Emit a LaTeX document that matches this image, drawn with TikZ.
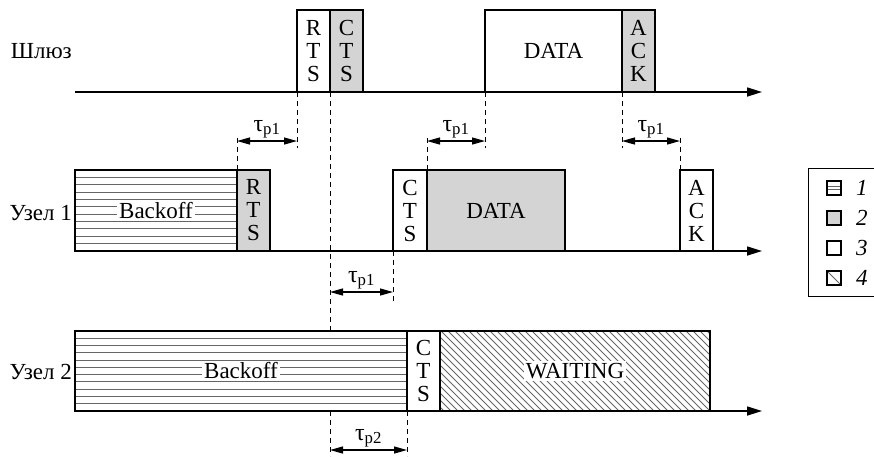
\documentclass[tikz,border=0pt]{standalone}
\usepackage{fontspec}
\setmainfont{Liberation Serif}
\usepackage{tikz}
\usetikzlibrary{arrows.meta, positioning, calc}
\definecolor{boxgray}{gray}{0.83}
\definecolor{hatchgray}{gray}{0.4}
\tikzstyle{slot}    = [draw, fill=white, line width=1.8pt, inner sep=0pt, outer sep=0pt,
                       anchor=north west, align=center, font=\fontsize{23}{23}\selectfont]
\tikzstyle{backoff} = [slot, path picture={\foreach \k in {1,...,10}
                         \draw[hatchgray, line width=0.9pt]
                         ($(path picture bounding box.north west)!\k/11!(path picture bounding box.south west)$) -- ++(400,0);}]
\tikzstyle{waiting} = [slot, path picture={\foreach \k in {0,...,52}
                         \draw[hatchgray, line width=0.8pt]
                         ($(path picture bounding box.north west)+(\k*7-90,0)$) -- ++(90,90);}]
\tikzstyle{tag}     = [fill=white, inner sep=2pt, font=\fontsize{23}{23}\selectfont]
\tikzstyle{rowname} = [inner sep=0pt, anchor=base east, font=\fontsize{23}{23}\selectfont]
\tikzstyle{axis}    = [line width=1.6pt, -{Triangle[length=15pt, width=9pt]}]
\tikzstyle{guide}   = [dash pattern=on 5pt off 4pt, line width=0.8pt]
\tikzstyle{span}    = [line width=1.2pt, {Triangle[length=13pt, width=7pt]}-{Triangle[length=13pt, width=7pt]}]
\tikzstyle{spanlbl} = [inner sep=1pt, above=1pt, font=\fontsize{24}{24}\selectfont]
\tikzstyle{key}     = [draw, fill=white, line width=1.6pt, minimum size=14pt, inner sep=0pt]
\tikzstyle{keynum}  = [inner sep=0pt, font=\fontsize{23}{23}\selectfont\itshape]

\begin{document}
\begin{tikzpicture}[x=1pt, y=-1pt]
  \useasboundingbox (0,0) rectangle (874,456);

  % Row names
  \node[rowname] (gName) at (72,58) {Шлюз};
  \node[rowname] (aName) at (72,220) {Узел 1};
  \node[rowname] (bName) at (72,379) {Узел 2};

  % Time axes
  \coordinate (gStart) at (75,92);
  \coordinate (gEnd) at (762,92);
  \coordinate (aStart) at (75,251);
  \coordinate (aEnd) at (762,251);
  \coordinate (bStart) at (75,411);
  \coordinate (bEnd) at (762,411);
  \draw[axis] (gStart) -- (gEnd);
  \draw[axis] (aStart) -- (aEnd);
  \draw[axis] (bStart) -- (bEnd);

  % Gateway
  \node[slot, minimum width=33pt, minimum height=82pt] (gRTS) at (297,10) {R\\T\\S};
  \node[slot, fill=boxgray, minimum width=33pt, minimum height=82pt, right=0pt of gRTS] (gCTS) {C\\T\\S};
  \node[slot, minimum width=137pt, minimum height=82pt] (gDATA) at (485,10) {DATA};
  \node[slot, fill=boxgray, minimum width=33pt, minimum height=82pt, right=0pt of gDATA] (gACK) {A\\C\\K};

  % Node 1
  \node[backoff, minimum width=162pt, minimum height=81pt] (aBack) at (75,170) {};
  \node[tag] (aBackTxt) at (aBack.center) {Backoff};
  \node[slot, fill=boxgray, minimum width=33pt, minimum height=81pt, right=0pt of aBack] (aRTS) {R\\T\\S};
  \node[slot, minimum width=34pt, minimum height=81pt] (aCTS) at (393,170) {C\\T\\S};
  \node[slot, fill=boxgray, minimum width=138pt, minimum height=81pt, right=0pt of aCTS] (aDATA) {DATA};
  \node[slot, minimum width=33pt, minimum height=81pt] (aACK) at (680,170) {A\\C\\K};

  % Node 2
  \node[backoff, minimum width=332pt, minimum height=80pt] (bBack) at (75,331) {};
  \node[tag] (bBackTxt) at (bBack.center) {Backoff};
  \node[slot, minimum width=33pt, minimum height=80pt, right=0pt of bBack] (bCTS) {C\\T\\S};
  \node[waiting, minimum width=270pt, minimum height=80pt, right=0pt of bCTS] (bWait) {};
  \node[tag] (bWaitTxt) at (bWait.center) {WAITING};

  % Delay marks
  \coordinate (t1L) at (aRTS.north west |- 0,141);
  \coordinate (t1R) at (gRTS.south west |- 0,141);
  \coordinate (t2L) at (aDATA.north west |- 0,141);
  \coordinate (t2R) at (gDATA.south west |- 0,141);
  \coordinate (t3L) at (gACK.south west |- 0,141);
  \coordinate (t3R) at (aACK.north west |- 0,141);
  \coordinate (t4L) at (gCTS.south west |- 0,292);
  \coordinate (t4R) at (aCTS.south west |- 0,292);
  \coordinate (t5L) at (gCTS.south west |- 0,450);
  \coordinate (t5R) at (bCTS.south west |- 0,450);

  \draw[guide] (gRTS.south west) -- ++(0,56);
  \draw[guide] (aRTS.north west) -- ++(0,-34);
  \draw[guide] (gCTS.south west) -- (gCTS.south west |- bBack.north);
  \draw[guide] (aCTS.south west) -- ++(0,51);
  \draw[guide] (gDATA.south west) -- ++(0,56);
  \draw[guide] (aDATA.north west) -- ++(0,-35);
  \draw[guide] (gACK.south west) -- ++(0,56);
  \draw[guide] (aACK.north west) -- ++(0,-34);
  \draw[guide] (gCTS.south west |- bBack.south) -- ++(0,45);
  \draw[guide] (bCTS.south west) -- ++(0,45);

  \draw[span] (t1L) -- (t1R) node[spanlbl, midway] (t1Lbl) {τ\textsubscript{p1}};
  \draw[span] (t2L) -- (t2R) node[spanlbl, midway] (t2Lbl) {τ\textsubscript{p1}};
  \draw[span] (t3L) -- (t3R) node[spanlbl, midway] (t3Lbl) {τ\textsubscript{p1}};
  \draw[span] (t4L) -- (t4R) node[spanlbl, midway] (t4Lbl) {τ\textsubscript{p1}};
  \draw[span] (t5L) -- (t5R) node[spanlbl, midway] (t5Lbl) {τ\textsubscript{p2}};

  % Legend
  \node[draw, line width=1pt, inner sep=0pt, outer sep=0pt, minimum width=66pt,
        minimum height=128pt, anchor=north west] (lgd) at (808,168) {};
  \node[key, path picture={
          \draw[hatchgray, line width=1pt] ($(path picture bounding box.north west)!0.38!(path picture bounding box.south west)$) -- ++(20,0);
          \draw[hatchgray, line width=1pt] ($(path picture bounding box.north west)!0.62!(path picture bounding box.south west)$) -- ++(20,0);}] (k1) at (834,188) {};
  \node[key, fill=boxgray] (k2) at (834,218) {};
  \node[key] (k3) at (834,248) {};
  \node[key, path picture={\draw[hatchgray, line width=1pt] (path picture bounding box.north west) -- (path picture bounding box.south east);}] (k4) at (834,278) {};
  \node[keynum, right=14pt of k1] (n1) {1};
  \node[keynum, right=14pt of k2] (n2) {2};
  \node[keynum, right=14pt of k3] (n3) {3};
  \node[keynum, right=14pt of k4] (n4) {4};
\end{tikzpicture}
\end{document}
